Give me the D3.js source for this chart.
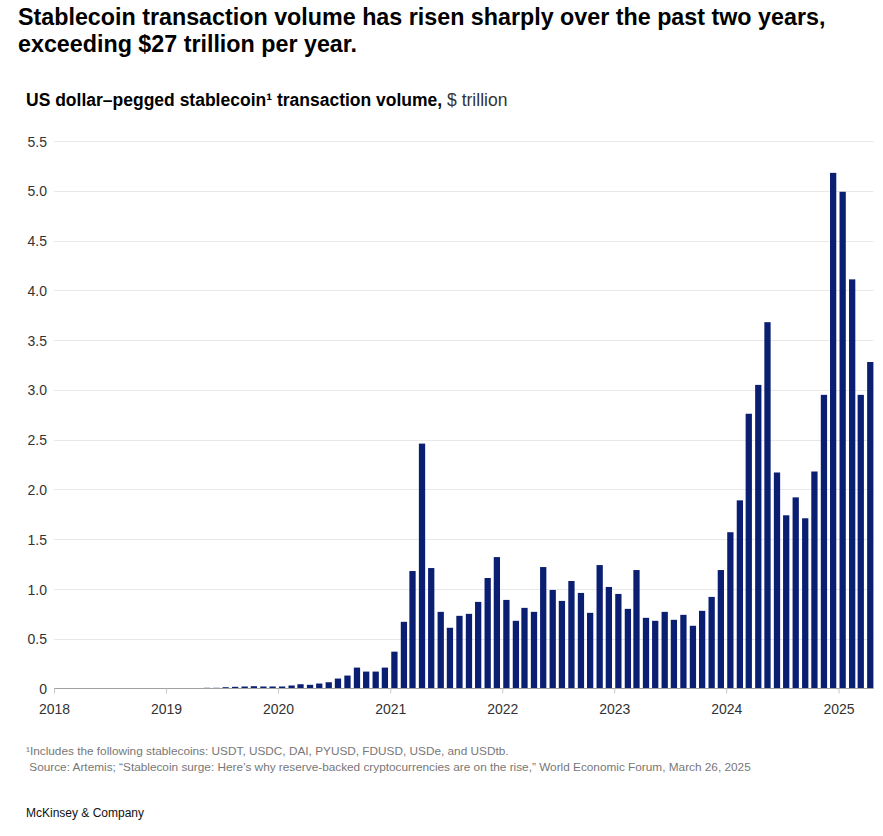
<!DOCTYPE html>
<html>
<head>
<meta charset="utf-8" />
<title>Stablecoin transaction volume</title>
<style>
body { margin: 0; background: #fff; }
#graph { width: 883px; height: 836px; font-family: "Liberation Sans", Arial, sans-serif; }
.grid line { stroke: #e8e8e8; stroke-width: 1; }
.axis text { fill: #333; font-size: 14px; font-family: "Liberation Sans", Arial, sans-serif; }
</style>
</head>
<body>
<div id="graph"></div>
<script src="https://cdnjs.cloudflare.com/ajax/libs/d3/7.8.5/d3.min.js"></script>
<script>
// monthly volume, $ trillion, one array per year (Jan..Dec)
var years = [2018, 2019, 2020, 2021, 2022, 2023, 2024, 2025]
var vol2018 = [0, 0, 0, 0, 0, 0, 0, 0, 0, 0, 0, 0]
var vol2019 = [0, 0.001, 0.003, 0.004, 0.007, 0.007, 0.013, 0.017, 0.02, 0.023, 0.02, 0.02]
var vol2020 = [0.02, 0.03, 0.043, 0.037, 0.05, 0.063, 0.10, 0.13, 0.21, 0.17, 0.17, 0.21]
var vol2021 = [0.37, 0.67, 1.18, 2.46, 1.21, 0.77, 0.61, 0.73, 0.75, 0.87, 1.11, 1.32]
var vol2022 = [0.89, 0.68, 0.81, 0.77, 1.22, 0.99, 0.88, 1.08, 0.96, 0.76, 1.24, 1.02]
var vol2023 = [0.95, 0.80, 1.19, 0.71, 0.68, 0.77, 0.69, 0.74, 0.63, 0.78, 0.92, 1.19]
var vol2024 = [1.57, 1.89, 2.76, 3.05, 3.68, 2.17, 1.74, 1.92, 1.71, 2.18, 2.95, 5.18]
var vol2025 = [4.99, 4.11, 2.95, 3.28]
var yTicks = [0, 0.5, 1.0, 1.5, 2.0, 2.5, 3.0, 3.5, 4.0, 4.5, 5.0, 5.5]

var titleLines = ["Stablecoin transaction volume has risen sharply over the past two years,",
                  "exceeding $27 trillion per year."]
var footnotes = ["\u00b9Includes the following stablecoins: USDT, USDC, DAI, PYUSD, FDUSD, USDe, and USDtb.",
                 " Source: Artemis; \u201cStablecoin surge: Here\u2019s why reserve-backed cryptocurrencies are on the rise,\u201d World Economic Forum, March 26, 2025"]

!(function(){
    "use strict"

    var byYear = [vol2018, vol2019, vol2020, vol2021, vol2022, vol2023, vol2024, vol2025]
    var data = []
    years.forEach(function(yr, i){
        byYear[i].forEach(function(v, m){
            data.push({ date: new Date(yr, m, 1), value: v })
        })
    })

    var width = 883, height = 836
    var margin = { top: 141, left: 54, right: 8, bottom: 147 }

    var svg = d3.select("#graph").append("svg")
        .attr("width", width).attr("height", height)

    var last = data[data.length - 1].date
    var xScale = d3.scaleTime()
        .domain([new Date(2018, 0, 1), d3.timeMonth.offset(last, 1)])
        .range([margin.left, margin.left + 112 * (88 / 12)])
    var yScale = d3.scaleLinear()
        .domain([0, 5.5])
        .range([height - margin.bottom - 0.5, margin.top])

    var step = xScale(new Date(2021, 1, 1)) - xScale(new Date(2021, 0, 1))
    var barW = step * 0.66
    var gridEnd = xScale(last) + 1 + barW

    // titles
    var title = svg.append("g").attr("font-weight", "bold").attr("fill", "#000")
    title.selectAll("text").data(titleLines).enter().append("text")
        .attr("x", 18).attr("y", function(d, i){ return 25 + i * 27 })
        .attr("font-size", 21.5)
        .text(function(d){ return d })
    var t1 = title.select("text").node()
    var k = 808 / t1.getComputedTextLength()
    title.selectAll("text").attr("font-size", 21.5 * k)

    var sub = svg.append("text").attr("x", 26).attr("y", 106).attr("font-size", 17.5).attr("fill", "#000")
    sub.append("tspan").attr("font-weight", "bold").text("US dollar\u2013pegged stablecoin\u00b9 transaction volume,")
    sub.append("tspan").attr("fill", "#333").text(" $ trillion")

    // grid + y labels
    var yAxis = d3.axisLeft(yScale)
        .tickValues(yTicks)
        .tickSize(0)
        .tickPadding(7)
        .tickFormat(function(d){ return d === 0 ? "0" : d3.format(".1f")(d) })

    svg.append("g").attr("class", "grid")
        .selectAll("line").data(yTicks.filter(function(d){ return d > 0 })).enter().append("line")
        .attr("x1", margin.left).attr("x2", gridEnd)
        .attr("y1", function(d){ return Math.round(yScale(d)) + 0.5 })
        .attr("y2", function(d){ return Math.round(yScale(d)) + 0.5 })

    var ya = svg.append("g").attr("class", "axis y")
        .attr("transform", "translate(" + [margin.left, 0] + ")")
        .call(yAxis)
    ya.select(".domain").remove()
    ya.selectAll("text").attr("dy", "0.36em")

    // bars
    svg.append("g").selectAll("rect").data(data).enter().append("rect")
        .attr("x", function(d){ return xScale(d.date) + 1 })
        .attr("width", barW)
        .attr("y", function(d){ return yScale(d.value) })
        .attr("height", function(d){ return yScale(0) - yScale(d.value) })
        .attr("fill", "#0a1f72")

    // x axis
    var xAxis = d3.axisBottom(xScale)
        .ticks(d3.timeYear.every(1))
        .tickFormat(d3.timeFormat("%Y"))
        .tickSizeInner(5)
        .tickSizeOuter(0)
        .tickPadding(11)

    var xa = svg.append("g").attr("class", "axis x")
        .attr("transform", "translate(" + [0, yScale(0)] + ")")
        .call(xAxis)
    xa.select(".domain").attr("stroke", "#a0a0a0").attr("d", "M" + margin.left + ",0H" + gridEnd)
    xa.selectAll(".tick line").attr("stroke", "#c8c8c8")
    xa.selectAll("text").attr("font-size", 14)

    // footnotes
    svg.append("g").selectAll("text").data(footnotes).enter().append("text")
        .attr("x", 26).attr("y", function(d, i){ return 755 + i * 16 })
        .attr("font-size", 11.8).attr("fill", "#777")
        .attr("xml:space", "preserve")
        .style("white-space", "pre")
        .text(function(d){ return d })

    svg.append("text").attr("x", 26).attr("y", 817)
        .attr("font-size", 12).attr("fill", "#111")
        .text("McKinsey & Company")
}());
</script>
</body>
</html>
